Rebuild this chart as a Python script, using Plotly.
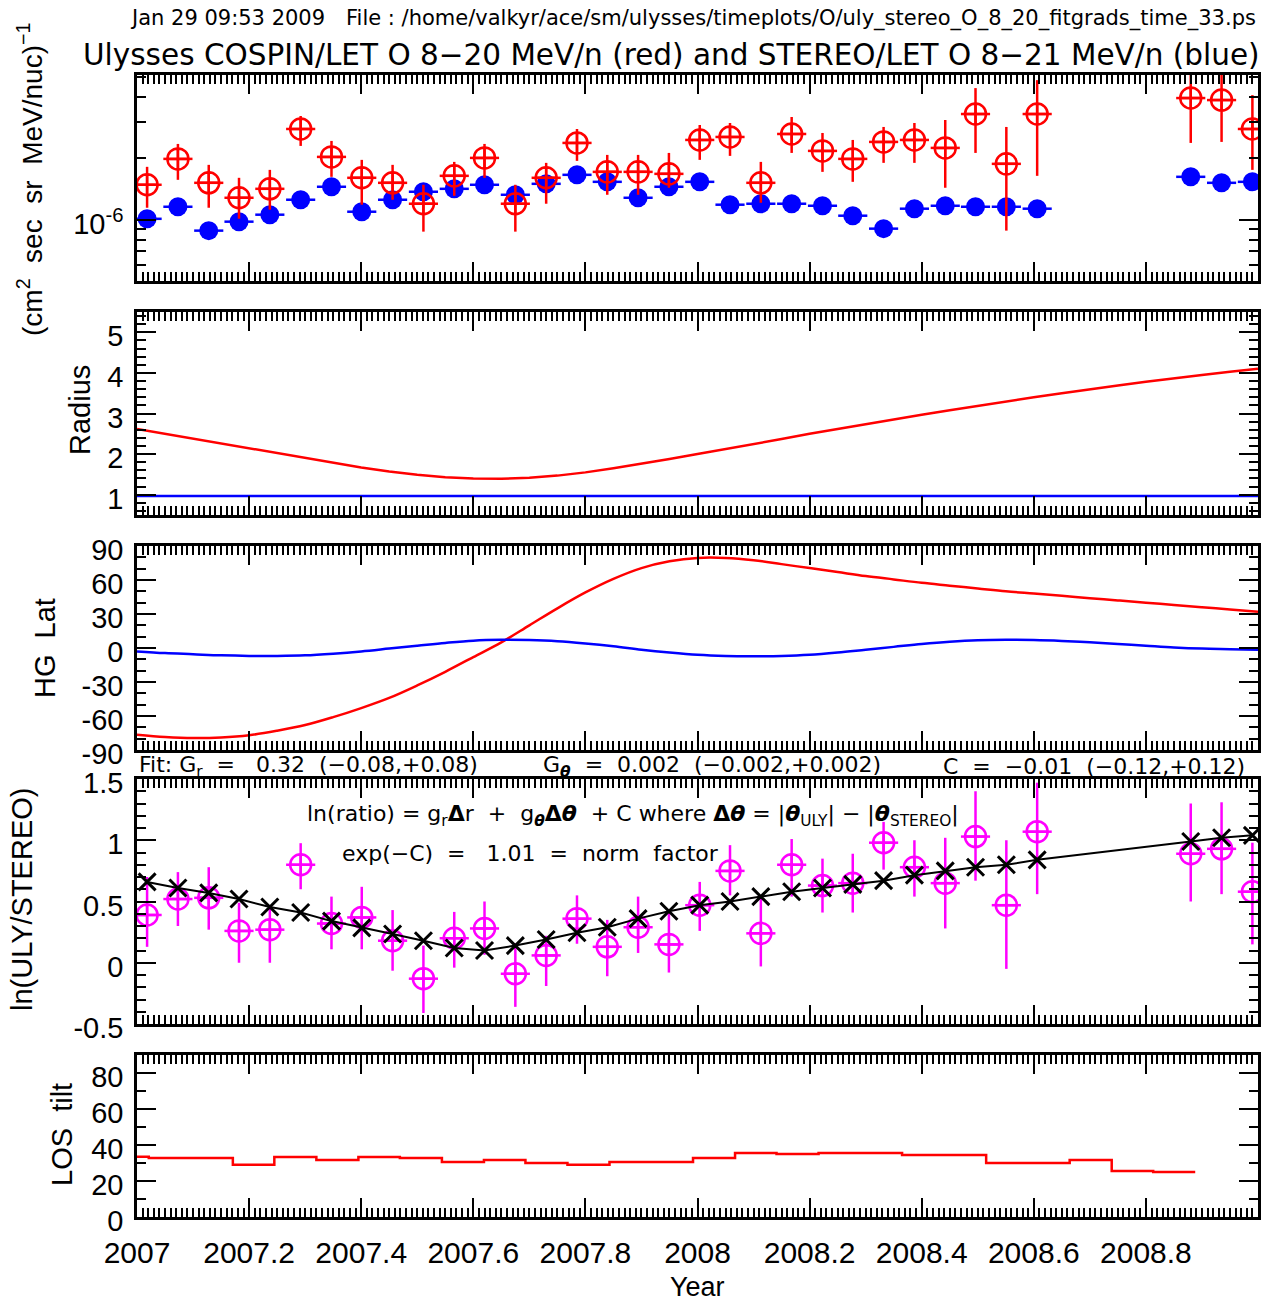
import plotly.graph_objects as go

# ---------------- data ----------------
bin_year = [2007.018, 2007.073, 2007.128, 2007.182, 2007.237, 2007.292, 2007.347, 2007.401,
            2007.456, 2007.511, 2007.566, 2007.620, 2007.675, 2007.730, 2007.785, 2007.839,
            2007.894, 2007.949, 2008.004, 2008.058, 2008.113, 2008.168, 2008.223, 2008.277,
            2008.332, 2008.387, 2008.442, 2008.496, 2008.551, 2008.606, 2008.880, 2008.935,
            2008.990]
bin_halfwidth = 0.026

stereo_flux = [1.01e-6, 1.157e-6, 0.884e-6, 0.978e-6, 1.058e-6, 1.252e-6, 1.449e-6, 1.094e-6,
               1.252e-6, 1.370e-6, 1.416e-6, 1.482e-6, 1.324e-6, 1.498e-6, 1.658e-6, 1.532e-6,
               1.280e-6, 1.449e-6, 1.532e-6, 1.184e-6, 1.197e-6, 1.197e-6, 1.170e-6, 1.046e-6,
               0.904e-6, 1.132e-6, 1.170e-6, 1.157e-6, 1.157e-6, 1.132e-6, 1.621e-6, 1.515e-6,
               1.532e-6]

uly_flux = [1.482e-6, 1.984e-6, 1.515e-6, 1.280e-6, 1.416e-6, 2.779e-6, 2.029e-6, 1.603e-6,
            1.515e-6, 1.197e-6, 1.639e-6, 2.006e-6, 1.197e-6, 1.603e-6, 2.375e-6, 1.714e-6,
            1.714e-6, 1.676e-6, 2.456e-6, 2.540e-6, 1.515e-6, 2.627e-6, 2.171e-6, 1.984e-6,
            2.402e-6, 2.456e-6, 2.245e-6, 3.289e-6, 1.876e-6, 3.289e-6, 3.937e-6, 3.849e-6,
            2.779e-6]
uly_flux_hi = [1.814e-6, 2.348e-6, 1.855e-6, 1.603e-6, 1.753e-6, 3.216e-6, 2.429e-6, 1.962e-6,
               1.855e-6, 1.482e-6, 1.918e-6, 2.348e-6, 1.482e-6, 1.897e-6, 2.779e-6, 2.075e-6,
               2.075e-6, 2.122e-6, 2.907e-6, 2.973e-6, 1.918e-6, 3.180e-6, 2.657e-6, 2.456e-6,
               2.843e-6, 2.973e-6, 3.075e-6, 4.405e-6, 2.843e-6, 4.818e-6, 5.390e-6, 5.270e-6,
               4.070e-6]
uly_flux_lo = [1.144e-6, 1.567e-6, 1.144e-6, 1.011e-6, 1.119e-6, 2.296e-6, 1.621e-6, 1.184e-6,
               1.252e-6, 0.874e-6, 1.309e-6, 1.603e-6, 0.874e-6, 1.197e-6, 1.940e-6, 1.324e-6,
               1.324e-6, 1.433e-6, 1.962e-6, 2.052e-6, 1.210e-6, 2.122e-6, 1.714e-6, 1.532e-6,
               1.897e-6, 1.897e-6, 1.433e-6, 2.122e-6, 0.884e-6, 1.639e-6, 2.375e-6, 2.402e-6,
               1.753e-6]

ln_ratio = [0.39, 0.52, 0.53, 0.26, 0.27, 0.80, 0.32, 0.37, 0.18, -0.13, 0.20, 0.28, -0.09,
            0.06, 0.36, 0.13, 0.29, 0.15, 0.47, 0.75, 0.24, 0.80, 0.63, 0.65, 0.98, 0.78, 0.65,
            1.03, 0.47, 1.07, 0.89, 0.93, 0.58]
ln_ratio_hi = [0.70, 0.74, 0.78, 0.49, 0.455, 0.976, 0.54, 0.62, 0.43, 0.14, 0.415, 0.50, 0.16,
               0.22, 0.55, 0.35, 0.54, 0.41, 0.66, 0.96, 0.54, 1.01, 0.85, 0.89, 1.15, 1.00,
               1.02, 1.40, 1.00, 1.47, 1.30, 1.31, 0.98]
ln_ratio_lo = [0.13, 0.30, 0.27, 0.00, 0.00, 0.60, 0.11, 0.11, -0.065, -0.41, -0.04, 0.065,
               -0.36, -0.19, 0.155, -0.11, 0.08, -0.08, 0.26, 0.55, -0.03, 0.54, 0.41, 0.41,
               0.76, 0.54, 0.28, 0.67, -0.05, 0.56, 0.50, 0.56, 0.15]
ln_ratio_fit = [0.66, 0.61, 0.57, 0.52, 0.455, 0.41, 0.34, 0.285, 0.235, 0.18, 0.12, 0.10, 0.14,
                0.19, 0.245, 0.29, 0.36, 0.42, 0.47, 0.50, 0.54, 0.58, 0.61, 0.64, 0.67, 0.715,
                0.75, 0.78, 0.80, 0.84, 0.99, 1.02, 1.04]

orbit_year = [2007.00, 2007.05, 2007.10, 2007.15, 2007.20, 2007.25, 2007.30, 2007.35, 2007.40,
              2007.45, 2007.50, 2007.55, 2007.60, 2007.65, 2007.70, 2007.75, 2007.80, 2007.85,
              2007.90, 2007.95, 2008.00, 2008.05, 2008.10, 2008.15, 2008.20, 2008.25, 2008.30,
              2008.35, 2008.40, 2008.45, 2008.50, 2008.55, 2008.60, 2008.65, 2008.70, 2008.75,
              2008.80, 2008.85, 2008.90, 2008.95, 2009.00]
uly_radius = [2.62, 2.50, 2.38, 2.26, 2.14, 2.02, 1.90, 1.78, 1.67, 1.57, 1.49, 1.43, 1.40,
              1.39, 1.42, 1.47, 1.55, 1.65, 1.76, 1.88, 2.00, 2.12, 2.25, 2.37, 2.50, 2.62,
              2.74, 2.86, 2.97, 3.08, 3.19, 3.30, 3.40, 3.50, 3.60, 3.69, 3.78, 3.87, 3.95,
              4.03, 4.10]
stereo_radius = [0.97, 0.97, 0.97, 0.97, 0.98, 0.98, 0.98, 0.98, 0.98, 0.98, 0.98, 0.98, 0.98,
                 0.98, 0.98, 0.98, 0.97, 0.97, 0.97, 0.97, 0.97, 0.97, 0.97, 0.97, 0.97, 0.97,
                 0.97, 0.97, 0.97, 0.97, 0.98, 0.98, 0.98, 0.98, 0.98, 0.98, 0.98, 0.98, 0.98,
                 0.97, 0.97]
uly_lat = [-76.5, -78.5, -79.5, -79.0, -77.0, -73.0, -68.0, -61.0, -53.0, -44.0, -33.0, -21.0,
           -8.0, 5.0, 20.0, 35.0, 49.0, 61.0, 70.5, 76.5, 79.5, 79.5, 77.5, 74.0, 70.5, 67.0,
           63.5, 60.5, 57.5, 55.0, 52.5, 50.0, 48.0, 46.0, 44.0, 42.0, 40.0, 38.0, 36.0, 34.0,
           32.0]
stereo_lat = [-3.0, -4.5, -5.5, -6.5, -7.0, -7.0, -6.5, -5.0, -3.0, -0.5, 2.0, 4.5, 6.5, 7.2,
              7.0, 6.0, 4.0, 1.5, -1.5, -4.0, -6.0, -7.0, -7.2, -7.0, -6.0, -4.0, -1.5, 1.0,
              3.5, 5.5, 6.8, 7.2, 7.0, 6.2, 5.0, 3.5, 2.0, 0.5, -0.5, -1.0, -1.5]

los_edges = [2007.000, 2007.021, 2007.096, 2007.171, 2007.245, 2007.320, 2007.395, 2007.469,
             2007.544, 2007.619, 2007.693, 2007.768, 2007.843, 2007.917, 2007.992, 2008.067,
             2008.141, 2008.216, 2008.291, 2008.365, 2008.440, 2008.515, 2008.589, 2008.664,
             2008.739, 2008.813, 2008.888]
los_tilt = [33.5, 32.8, 32.8, 29.0, 33.3, 31.7, 33.3, 32.8, 30.6, 31.7, 30.0, 29.0, 30.6, 30.6,
            32.8, 35.6, 35.0, 35.6, 35.6, 34.4, 34.4, 30.0, 30.0, 31.7, 25.6, 25.0]

year_ticks = [2007.0, 2007.2, 2007.4, 2007.6, 2007.8, 2008.0, 2008.2, 2008.4, 2008.6, 2008.8, 2009.0]
year_labels = ["2007", "2007.2", "2007.4", "2007.6", "2007.8", "2008", "2008.2", "2008.4",
               "2008.6", "2008.8", ""]

# ---------------- layout helpers ----------------
W, H = 1264, 1303
X0, X1 = 137, 1258
panels = [(75, 281), (312, 515), (546, 750), (779, 1024), (1055, 1217)]

def ydom(t, b):
    return [1 - b / H, 1 - t / H]

FONT = "Liberation Sans, Arial, sans-serif"
HFONT = "DejaVu Sans, sans-serif"
RED = "#ff0000"
BLUE = "#0000ff"
MAG = "#ff00ff"

fig = go.Figure()

# panel 1
fig.add_trace(go.Scatter(
    x=bin_year, y=stereo_flux, mode="markers",
    marker=dict(symbol="circle", size=19, color=BLUE),
    error_x=dict(type="constant", value=bin_halfwidth, width=0, thickness=2.5, color=BLUE),
    xaxis="x", yaxis="y", showlegend=False))
fig.add_trace(go.Scatter(
    x=bin_year, y=uly_flux, mode="markers",
    marker=dict(symbol="circle-cross-open", size=21, color=RED, line=dict(width=2.5, color=RED)),
    error_x=dict(type="constant", value=bin_halfwidth, width=0, thickness=2.5, color=RED),
    error_y=dict(type="data", symmetric=False,
                 array=[h - v for h, v in zip(uly_flux_hi, uly_flux)],
                 arrayminus=[v - l for v, l in zip(uly_flux, uly_flux_lo)],
                 width=0, thickness=2.5, color=RED),
    xaxis="x", yaxis="y", showlegend=False))

# panel 2
fig.add_trace(go.Scatter(x=orbit_year, y=uly_radius, mode="lines",
                         line=dict(color=RED, width=2.5), xaxis="x2", yaxis="y2", showlegend=False))
fig.add_trace(go.Scatter(x=orbit_year, y=stereo_radius, mode="lines",
                         line=dict(color=BLUE, width=2.5), xaxis="x2", yaxis="y2", showlegend=False))

# panel 3
fig.add_trace(go.Scatter(x=orbit_year, y=uly_lat, mode="lines", line_shape="spline",
                         line=dict(color=RED, width=2.5), xaxis="x3", yaxis="y3", showlegend=False))
fig.add_trace(go.Scatter(x=orbit_year, y=stereo_lat, mode="lines", line_shape="spline",
                         line=dict(color=BLUE, width=2.5), xaxis="x3", yaxis="y3", showlegend=False))

# panel 4
fig.add_trace(go.Scatter(
    x=bin_year, y=ln_ratio, mode="markers",
    marker=dict(symbol="circle-cross-open", size=21, color=MAG, line=dict(width=2.5, color=MAG)),
    error_x=dict(type="constant", value=bin_halfwidth, width=0, thickness=2.5, color=MAG),
    error_y=dict(type="data", symmetric=False,
                 array=[h - v for h, v in zip(ln_ratio_hi, ln_ratio)],
                 arrayminus=[v - l for v, l in zip(ln_ratio, ln_ratio_lo)],
                 width=0, thickness=2.5, color=MAG),
    xaxis="x4", yaxis="y4", showlegend=False))
fig.add_trace(go.Scatter(
    x=bin_year, y=ln_ratio_fit, mode="lines+markers",
    line=dict(color="black", width=2),
    marker=dict(symbol="x-thin", size=17, color="black", line=dict(width=3, color="black")),
    xaxis="x4", yaxis="y4", showlegend=False))

# panel 5
fig.add_trace(go.Scatter(
    x=los_edges, y=los_tilt + [los_tilt[-1]], mode="lines", line_shape="hv",
    line=dict(color=RED, width=2.5), xaxis="x5", yaxis="y5", showlegend=False))

# ---------------- axes ----------------
common_line = dict(showline=True, linewidth=2.5, linecolor="black", mirror="ticks",
                   ticks="inside", tickcolor="black", tickwidth=2, showgrid=False,
                   zeroline=False, automargin=False)
ylab = dict(ticklabelstandoff=5, ticklabelshift=4)

for i, (t, b) in enumerate(panels, start=1):
    sfx = "" if i == 1 else str(i)
    fig.layout["xaxis" + sfx] = dict(
        domain=[X0 / W, X1 / W], anchor="y" + sfx, range=[2007.0, 2009.0],
        tickmode="array", tickvals=year_ticks, ticktext=year_labels, ticklen=19,
        showticklabels=(i == 5), ticklabelstandoff=7,
        tickfont=dict(family=FONT, size=30, color="black"),
        minor=dict(ticks="inside", tickmode="linear", tick0=2007.0, dtick=0.01,
                   ticklen=9, tickwidth=1.5, tickcolor="black", showgrid=False),
        **common_line)
    if i > 1:
        fig.layout["xaxis" + sfx]["matches"] = "x"

fig.layout["yaxis"] = dict(
    domain=ydom(*panels[0]), anchor="x", type="log", range=[-6.30, -5.292],
    tickmode="array", tickvals=[1e-6], ticktext=["10<sup>-6</sup>"], ticklen=19,
    tickfont=dict(family=FONT, size=29, color="black"),
    minor=dict(ticks="inside", tickmode="array",
               tickvals=[5e-7, 6e-7, 7e-7, 8e-7, 9e-7, 2e-6, 3e-6, 4e-6, 5e-6],
               ticklen=9, tickwidth=2, tickcolor="black", showgrid=False),
    **common_line, **ylab)
fig.layout["yaxis2"] = dict(
    domain=ydom(*panels[1]), anchor="x2", range=[0.5, 5.5],
    tickmode="array", tickvals=[1, 2, 3, 4, 5], ticklen=19,
    tickfont=dict(family=FONT, size=29, color="black"),
    minor=dict(ticks="inside", tickmode="linear", tick0=0, dtick=0.2,
               ticklen=9, tickwidth=2, tickcolor="black", showgrid=False),
    **common_line, **ylab)
fig.layout["yaxis3"] = dict(
    domain=ydom(*panels[2]), anchor="x3", range=[-90, 90],
    tickmode="array", tickvals=[-90, -60, -30, 0, 30, 60, 90],
    ticktext=["-90", "-60", "-30", "0", "30", "60", "90"], ticklen=19,
    tickfont=dict(family=FONT, size=29, color="black"),
    minor=dict(ticks="inside", tickmode="linear", tick0=0, dtick=10,
               ticklen=9, tickwidth=2, tickcolor="black", showgrid=False),
    **common_line, **ylab)
fig.layout["yaxis4"] = dict(
    domain=ydom(*panels[3]), anchor="x4", range=[-0.5, 1.5],
    tickmode="array", tickvals=[-0.5, 0, 0.5, 1, 1.5], ticktext=["-0.5", "0", "0.5", "1", "1.5"],
    ticklen=19, tickfont=dict(family=FONT, size=29, color="black"),
    minor=dict(ticks="inside", tickmode="linear", tick0=0, dtick=0.1,
               ticklen=9, tickwidth=2, tickcolor="black", showgrid=False),
    **common_line, **ylab)
fig.layout["yaxis5"] = dict(
    domain=ydom(*panels[4]), anchor="x5", range=[0, 90],
    tickmode="array", tickvals=[0, 20, 40, 60, 80], ticklen=19,
    tickfont=dict(family=FONT, size=29, color="black"),
    minor=dict(ticks="inside", tickmode="linear", tick0=0, dtick=10,
               ticklen=9, tickwidth=2, tickcolor="black", showgrid=False),
    **common_line, **ylab)

# ---------------- text ----------------
def px_ann(text, x, y, size, family=FONT, xanchor="center", angle=0):
    fig.add_annotation(text=text, x=x / W, y=1 - y / H, xref="paper", yref="paper",
                       showarrow=False, xanchor=xanchor, yanchor="middle", textangle=angle,
                       font=dict(family=family, size=size, color="black"))

NB = "\u00a0"
px_ann("Jan 29 09:53 2009", 128, 18, 21, HFONT, "left")
px_ann("File : /home/valkyr/ace/sm/ulysses/timeplots/O/uly_stereo_O_8_20_fitgrads_time_33.ps",
       1258, 18, 21, HFONT, "right")
px_ann("Ulysses COSPIN/LET O 8−20 MeV/n (red) and STEREO/LET O 8−21 MeV/n (blue)",
       671, 55, 29.5, HFONT)

px_ann("(cm<sup>2</sup>" + NB * 2 + "sec" + NB * 2 + "sr" + NB * 2 + "MeV/nuc)<sup>−1</sup>",
       30, 180, 28, FONT, angle=-90)
px_ann("Radius", 80, 410, 29, FONT, angle=-90)
px_ann("HG" + NB * 2 + "Lat", 45, 648, 29, FONT, angle=-90)
px_ann("ln(ULY/STEREO)", 22, 900, 29, FONT, angle=-90)
px_ann("LOS" + NB * 2 + "tilt", 62, 1135, 29, FONT, angle=-90)
px_ann("Year", 697, 1287, 27, FONT)

px_ann("Fit:" + NB + "G<sub>r</sub>" + NB * 2 + "=" + NB * 3 + "0.32" + NB * 2 + "(−0.08,+0.08)",
       137, 766, 22, HFONT, "left")
px_ann("G<sub><b><i>θ</i></b></sub>" + NB * 2 + "=" + NB * 2 + "0.002" + NB * 2 + "(−0.002,+0.002)",
       541, 766, 22, HFONT, "left")
px_ann("C" + NB * 2 + "=" + NB * 2 + "−0.01" + NB * 2 + "(−0.12,+0.12)", 1247, 766, 22, HFONT, "right")
px_ann("ln(ratio)" + NB + "=" + NB + "g<sub>r</sub><b>Δ</b>r" + NB * 2 + "+" + NB * 2 +
       "g<sub><b><i>θ</i></b></sub><b>Δ<i>θ</i></b>" + NB * 2 + "+" + NB + "C" + NB + "where" + NB +
       "<b>Δ<i>θ</i></b>" + NB + "=" + NB + "|<b><i>θ</i></b><sub>ULY</sub>|" + NB + "−" + NB +
       "|<b><i>θ</i></b><sub>STEREO</sub>|", 305, 815, 22, HFONT, "left")
px_ann("exp(−C)" + NB * 2 + "=" + NB * 3 + "1.01" + NB * 2 + "=" + NB * 2 + "norm" + NB * 2 + "factor",
       340, 853, 22, HFONT, "left")

fig.update_layout(width=W, height=H, autosize=False,
                  margin=dict(l=0, r=0, t=0, b=0, autoexpand=False),
                  paper_bgcolor="white", plot_bgcolor="white")

fig.write_html("out.html", config={"displayModeBar": False},
               post_script="document.body.style.margin='0px';")
